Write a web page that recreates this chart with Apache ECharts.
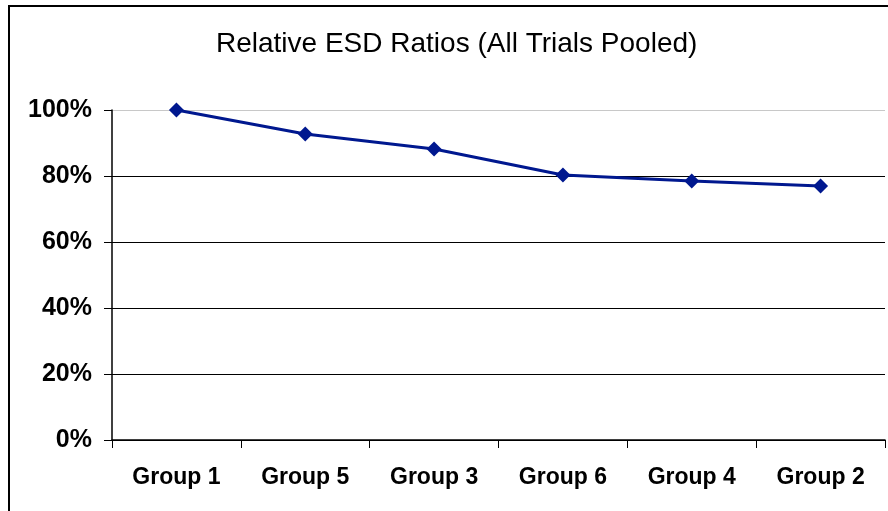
<!DOCTYPE html>
<html>
<head>
<meta charset="utf-8">
<script src="https://cdn.jsdelivr.net/npm/echarts@6/dist/echarts.min.js"></script>
<style>
  html, body { margin: 0; padding: 0; background: #fff; }
  #frame { position: absolute; left: 8px; top: 5px; width: 900px; height: 520px; border-left: 2px solid #000; border-top: 2px solid #000; }
  #chart { position: absolute; left: 0; top: 0; width: 888px; height: 511px; }
</style>
</head>
<body>
<div id="frame"></div>
<div id="chart"></div>
<script>
  // data
  const groups = ['Group 1', 'Group 5', 'Group 3', 'Group 6', 'Group 4', 'Group 2']
  const ratios = [100, 92.7, 88.2, 80.3, 78.5, 77.0]

  let chart = echarts.init(document.getElementById('chart'))
  chart.setOption({
    animation: false,
    textStyle: { fontFamily: 'Liberation Sans, Arial, sans-serif' },
    title: {
      text: 'Relative ESD Ratios (All Trials Pooled)',
      left: 211,
      top: 25,
      textStyle: { fontSize: 28, fontWeight: 'normal', color: '#000' }
    },
    grid: { left: 112, right: 3, top: 110, bottom: 71, containLabel: false },
    xAxis: {
      type: 'category',
      data: groups,
      boundaryGap: true,
      axisLine: { lineStyle: { color: '#000', width: 1.5 } },
      axisTick: { show: true, length: 8, lineStyle: { color: '#000' } },
      axisLabel: { color: '#000', fontSize: 23, fontWeight: 'bold', margin: 26 }
    },
    yAxis: {
      type: 'value',
      min: 0,
      max: 100,
      interval: 20,
      axisLine: { show: true, lineStyle: { color: '#000', width: 1.5 } },
      axisTick: { show: true, length: 8, lineStyle: { color: '#000' } },
      axisLabel: { color: '#000', fontSize: 25, fontWeight: 'bold', margin: 20, formatter: '{value}%' },
      splitLine: { show: true, lineStyle: { color: ['#000', '#000', '#000', '#000', '#000', '#c8c8c8'], width: 1.2 } }
    },
    series: [{
      type: 'line',
      data: ratios,
      symbol: 'diamond',
      symbolSize: 15,
      lineStyle: { color: '#00188f', width: 3 },
      itemStyle: { color: '#00188f' }
    }]
  })
</script>
</body>
</html>
